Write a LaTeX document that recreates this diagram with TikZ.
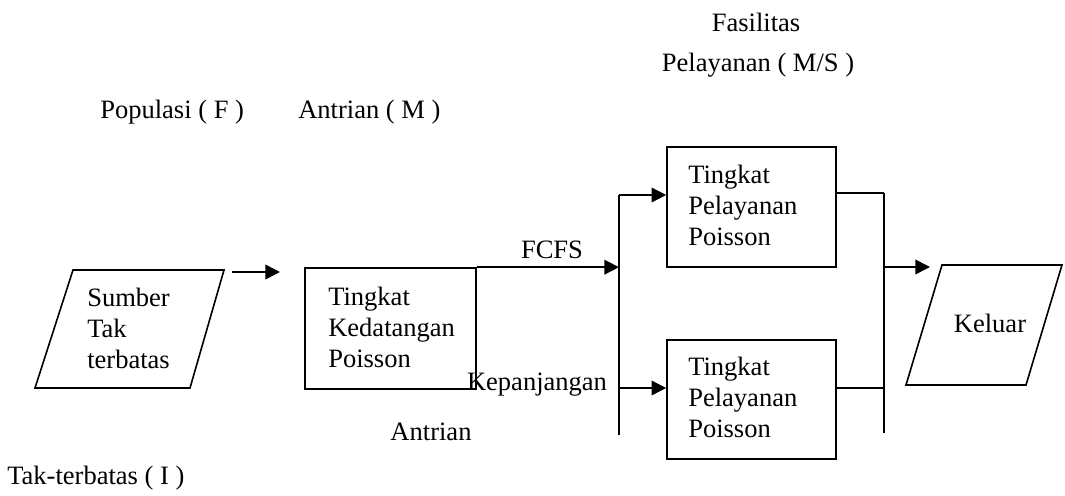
\documentclass[tikz,border=0pt]{standalone}
\usepackage{fontspec}
\setmainfont{Liberation Serif}
\usetikzlibrary{arrows.meta}
\begin{document}
\begin{tikzpicture}[x=0.75pt,y=-0.75pt,
  every node/.style={font=\fontsize{19.9pt}{23.3pt}\selectfont, inner sep=0pt},
  txt/.style={align=left, anchor=west},
  ln/.style={line width=1.2pt},
  boxk/.style={draw, ln, minimum width=128.25pt, minimum height=90.75pt},
  boxs/.style={draw, ln, minimum width=126.75pt, minimum height=90pt},
  arr/.style={ln, -{Triangle[length=11pt,width=11pt]}}]
\useasboundingbox (0,0) rectangle (1065,496);

% headings
\node (fas) at (756,22) {Fasilitas};
\node (pel) at (758,65) {Pelayanan ( M/S )};
\node[anchor=west] (pop) at (100,112) {Populasi ( F )};
\node[anchor=west] (ant) at (298,112) {Antrian ( M )};
\node[anchor=west] (tak) at (7,478) {Tak-terbatas ( I )};

% source parallelogram
\coordinate (sTL) at (73,270);
\coordinate (sTR) at (224,270);
\coordinate (sBR) at (190,388);
\coordinate (sBL) at (35,388);
\draw[ln] (sTL) -- (sTR) -- (sBR) -- (sBL) -- cycle;
\node[txt] (sumber) at (87,328) {Sumber\\Tak\\terbatas};

% arrival box
\node[boxk] (kd) at (390.5,328.5) {};
\node[txt] (kdt) at (328,327) {Tingkat\\Kedatangan\\Poisson};

% source -> arrival arrow
\coordinate (a1s) at (232,272);
\coordinate (a1e) at (280,272);
\draw[arr] (a1s) -- (a1e);

% left bus
\coordinate (bt) at (619,195);
\coordinate (bb) at (619,435);
\coordinate (bl) at (619,388);
\draw[ln] (bt) -- (bb);

% FCFS line
\draw[arr] (kd.north east) -- (kd.north east -| bt);
\node (fcfs) at (552,250) {FCFS};

% service boxes
\node[boxs] (s1) at (751.5,207) {};
\node[txt] (s1t) at (688,205) {Tingkat\\Pelayanan\\Poisson};
\node[boxs, minimum height=89.25pt] (s2) at (751.5,399.5) {};
\node[txt] (s2t) at (688,397) {Tingkat\\Pelayanan\\Poisson};

\draw[arr] (bt) -- (bt -| s1.west);
\draw[arr] (bl) -- (bl -| s2.west);

\node (kep) at (537,385) {Kepanjangan};
\node (antr) at (431,432) {Antrian};

% right bus
\coordinate (rt) at (884,193);
\coordinate (rb) at (884,433);
\coordinate (rl) at (884,388);
\coordinate (re) at (884,267);
\draw[ln] (rt) -- (rb);
\draw[ln] (s1.east |- rt) -- (rt);
\draw[ln] (s2.east |- rl) -- (rl);

% exit parallelogram
\coordinate (kTL) at (942,265);
\coordinate (kTR) at (1062,265);
\coordinate (kBR) at (1026,385);
\coordinate (kBL) at (906,385);
\draw[ln] (kTL) -- (kTR) -- (kBR) -- (kBL) -- cycle;
\node (kel) at (990,323) {Keluar};

\coordinate (xe) at (930,267);
\draw[arr] (re) -- (xe);
\end{tikzpicture}
\end{document}
